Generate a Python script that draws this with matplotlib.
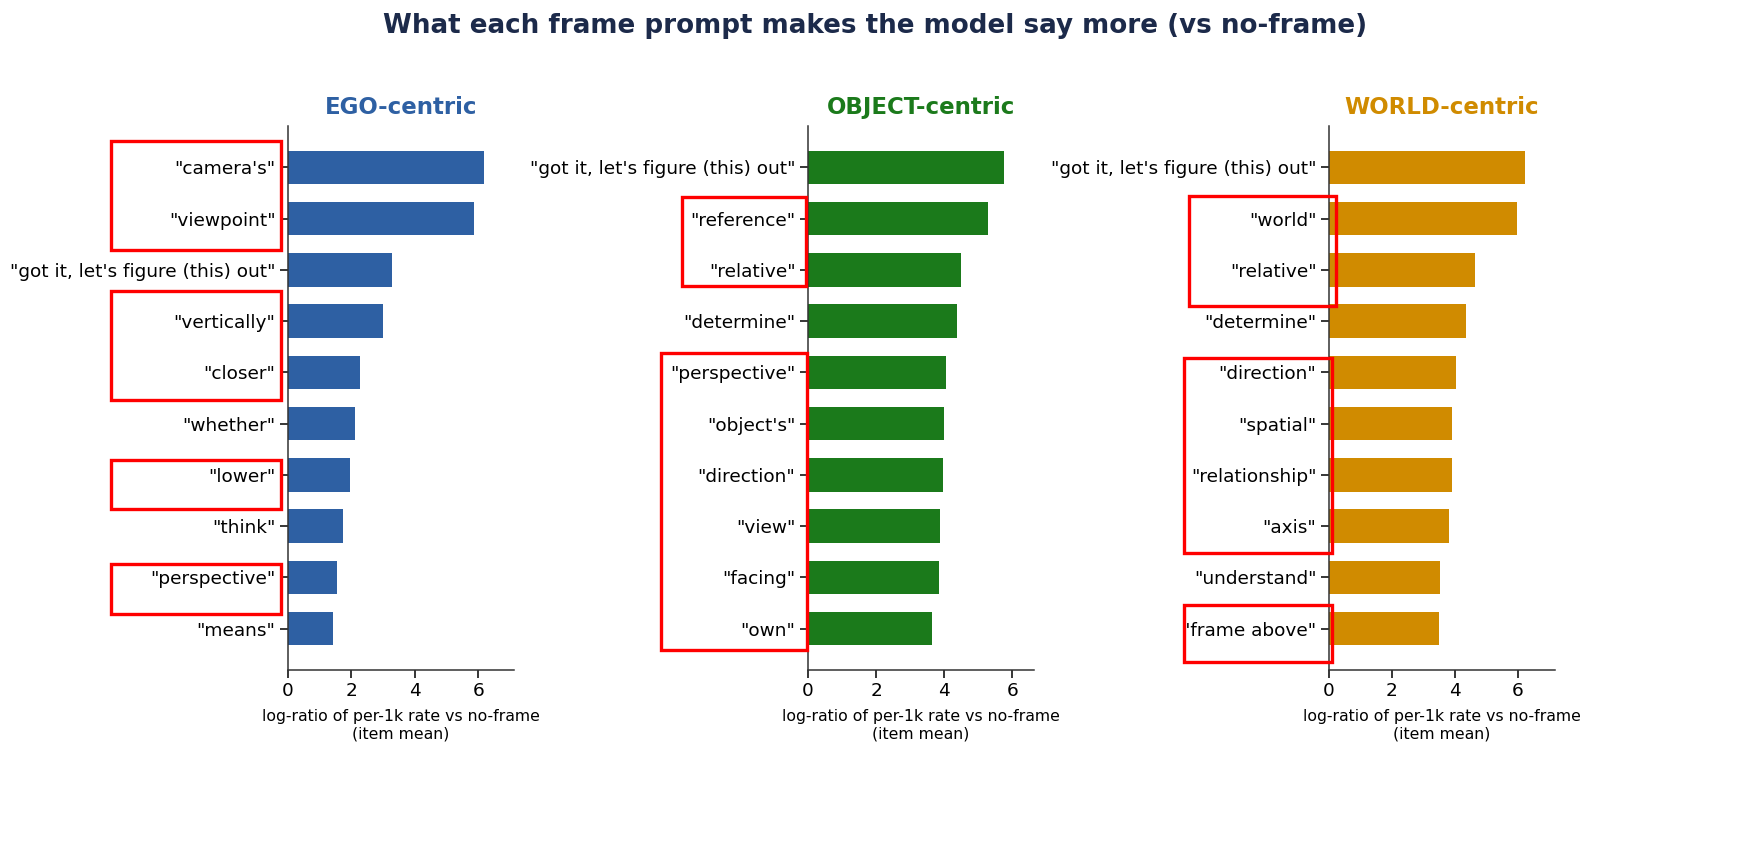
import matplotlib
matplotlib.use("Agg")
import matplotlib.pyplot as plt
from matplotlib.patches import Rectangle
import matplotlib.transforms as mtransforms

# =========================================================
# DATA (top word = first item)
# =========================================================

ego_words = ['"camera\'s"', '"viewpoint"', '"got it, let\'s figure (this) out"',
             '"vertically"', '"closer"', '"whether"', '"lower"', '"think"',
             '"perspective"', '"means"']
ego_vals = [6.19, 5.85, 3.27, 2.99, 2.26, 2.11, 1.95, 1.73, 1.54, 1.41]

obj_words = ['"got it, let\'s figure (this) out"', '"reference"', '"relative"',
             '"determine"', '"perspective"', '"object\'s"', '"direction"',
             '"view"', '"facing"', '"own"']
obj_vals = [5.76, 5.29, 4.50, 4.36, 4.04, 3.98, 3.95, 3.86, 3.83, 3.63]

world_words = ['"got it, let\'s figure (this) out"', '"world"', '"relative"',
               '"determine"', '"direction"', '"spatial"', '"relationship"',
               '"axis"', '"understand"', '"frame above"']
world_vals = [6.23, 5.98, 4.62, 4.34, 4.02, 3.89, 3.89, 3.80, 3.51, 3.48]

panel_titles = ["EGO-centric", "OBJECT-centric", "WORLD-centric"]
panel_colors = ["#2e60a3", "#1b7a1b", "#d08b00"]

# highlighted word groups: (first row, last row)
ego_boxes = [(0, 1), (3, 4), (6, 6), (8, 8)]
obj_boxes = [(1, 2), (4, 9)]
world_boxes = [(1, 2), (4, 7), (9, 9)]

# =========================================================
# FIGURE
# =========================================================

fig = plt.figure(figsize=(17.5, 8.42), dpi=100)
fig.suptitle("What each frame prompt makes the model say more (vs no-frame)",
             fontsize=18.8, fontweight="bold", color="#1c2a4a", y=0.985)

lefts = [0.1646, 0.4617, 0.7594]
# box geometry in axes-x fraction (left, right) and row padding (top, bottom)
box_x = [[(-0.783, -0.031)] * 4,
         [(-0.559, -0.009), (-0.652, -0.004)],
         [(-0.619, 0.031), (-0.642, 0.013), (-0.642, 0.013)]]
box_pad = [[(0.51, 0.62), (0.59, 0.54), (0.29, 0.67), (0.27, 0.71)],
           [(0.43, 0.31), (0.38, 0.41)],
           [(0.45, 0.70), (0.28, 0.53), (0.47, 0.65)]]

panels = [(ego_words, ego_vals, ego_boxes),
          (obj_words, obj_vals, obj_boxes),
          (world_words, world_vals, world_boxes)]

for i, (words, vals, boxes) in enumerate(panels):
    ax = fig.add_axes([lefts[i], 0.2043, 0.129, 0.646])
    ypos = list(range(len(words)))
    ax.barh(ypos, vals, height=0.65, color=panel_colors[i])
    ax.set_yticks(ypos)
    ax.set_yticklabels(words, fontsize=13.3)
    ax.invert_yaxis()
    ax.set_xlim(0, max(vals) * 1.15)
    ax.set_xticks([0, 2, 4, 6])
    ax.tick_params(axis="x", labelsize=13.3)
    ax.tick_params(length=5.5, width=1.1)
    ax.set_xlabel("log-ratio of per-1k rate vs no-frame\n(item mean)",
                  fontsize=11.3, labelpad=6)
    ax.set_title(panel_titles[i], fontsize=16.5, fontweight="bold",
                 color=panel_colors[i], pad=9)
    for s in ["top", "right"]:
        ax.spines[s].set_visible(False)
    for s in ["left", "bottom"]:
        ax.spines[s].set_color("#333333")
        ax.spines[s].set_linewidth(1.1)

    trans = mtransforms.blended_transform_factory(ax.transAxes, ax.transData)
    for (r0, r1), (x0, x1), (pt, pb) in zip(boxes, box_x[i], box_pad[i]):
        rect = Rectangle((x0, r0 - pt), x1 - x0, (r1 + pb) - (r0 - pt),
                         transform=trans, fill=False, edgecolor="red",
                         linewidth=2.4, clip_on=False, zorder=5)
        ax.add_patch(rect)

fig.savefig("out.png", dpi=100)
print("saved out.png")
